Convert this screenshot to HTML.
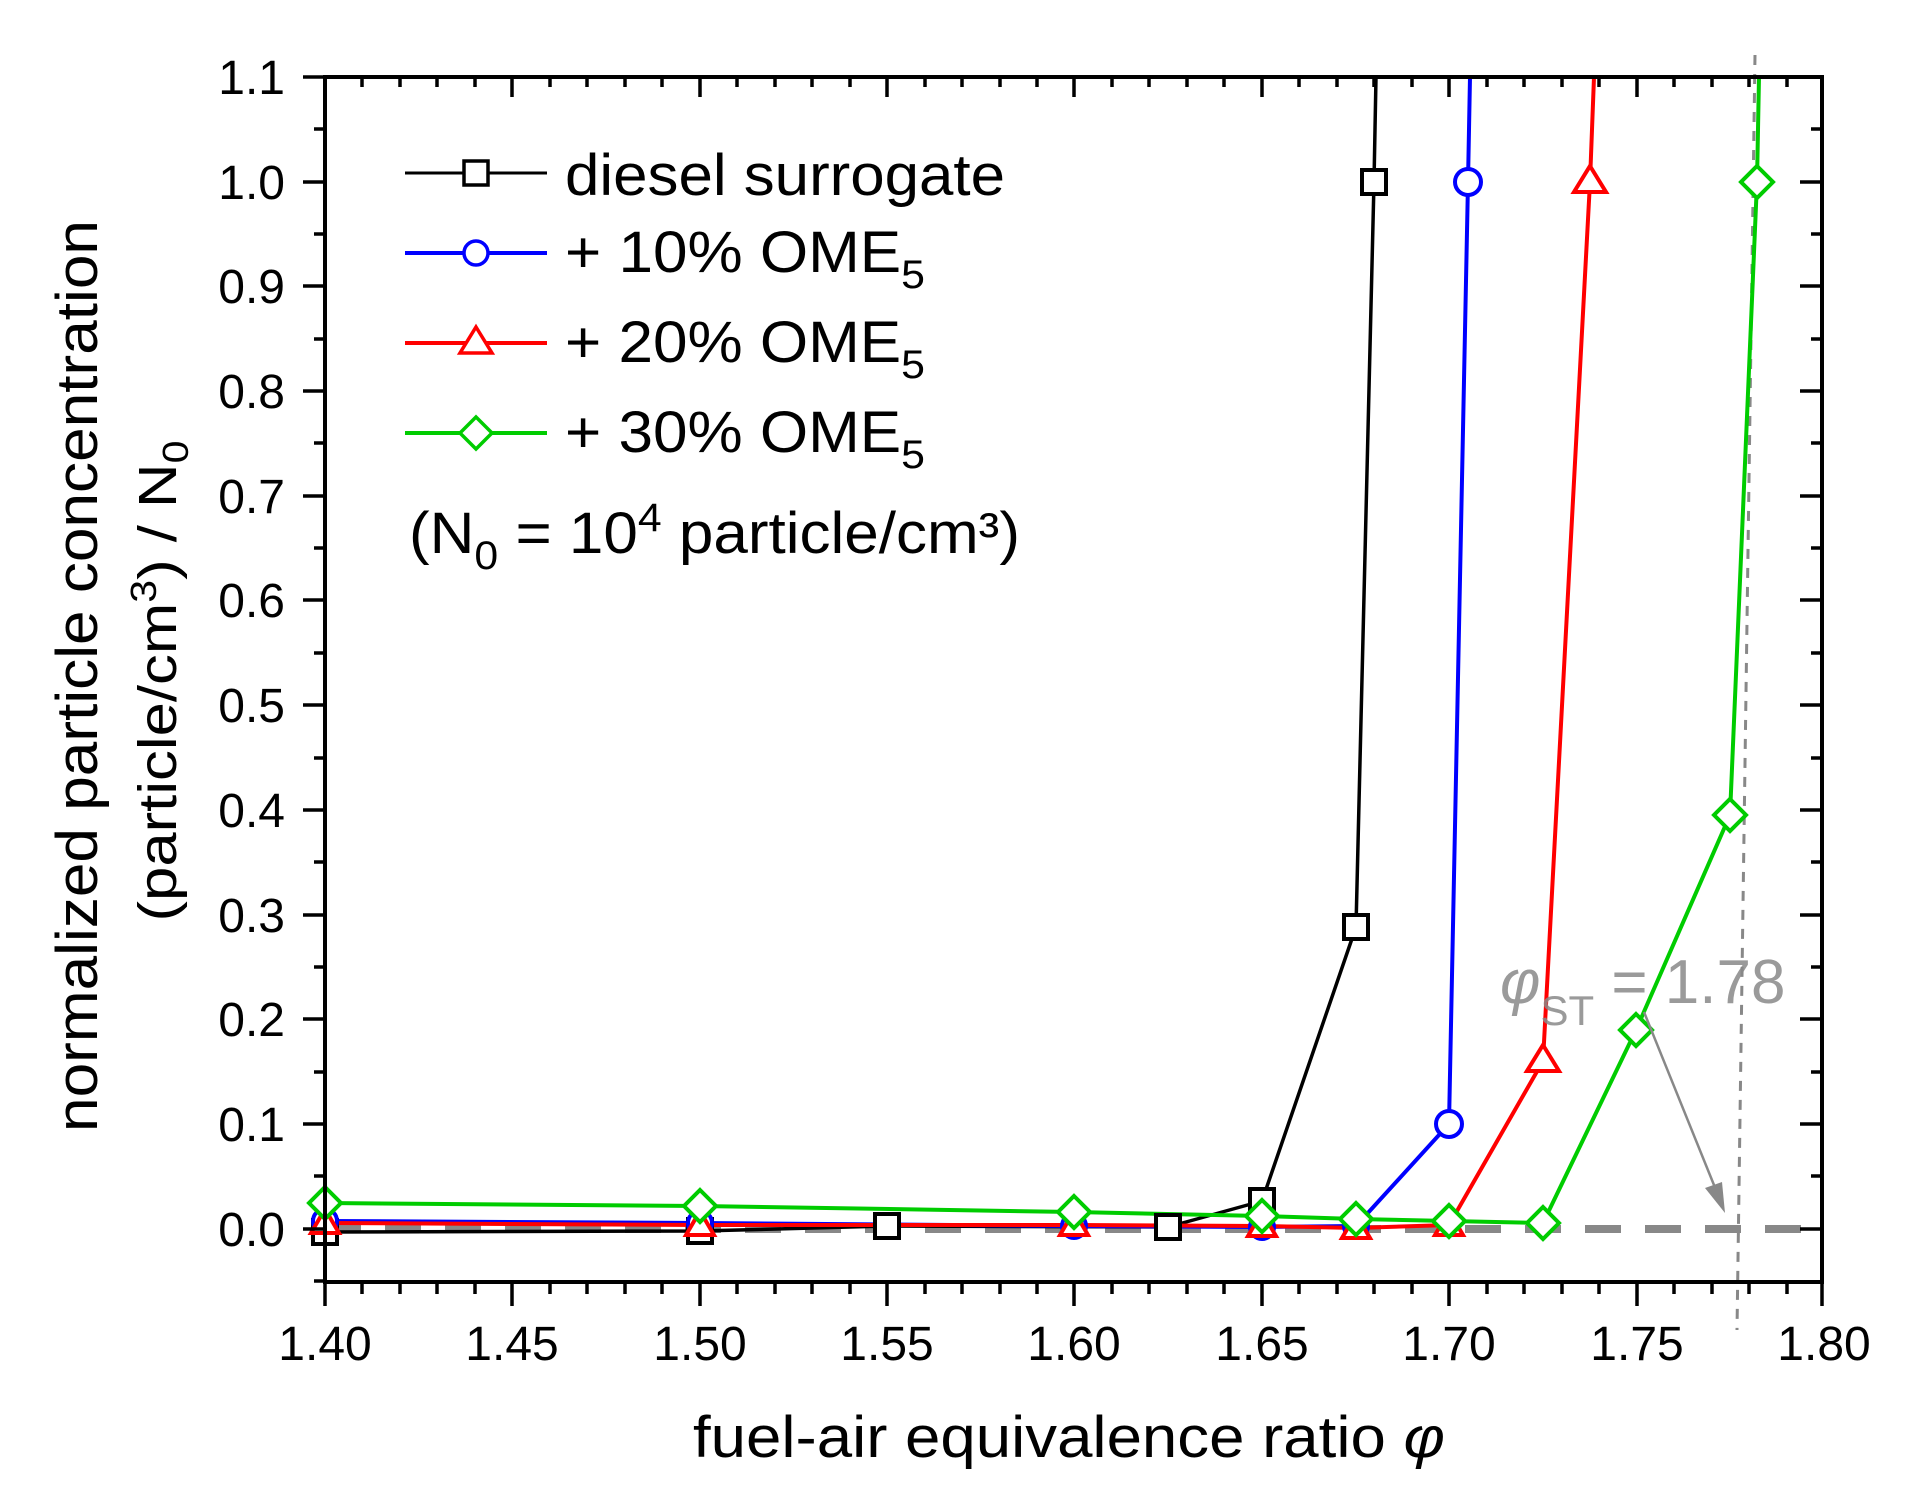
<!DOCTYPE html>
<html><head><meta charset="utf-8"><style>html,body{margin:0;padding:0;background:#fff}svg{display:block}</style></head>
<body>
<svg width="1924" height="1512" viewBox="0 0 1924 1512" xmlns="http://www.w3.org/2000/svg" font-family="Liberation Sans, Arial, sans-serif">
<rect width="1924" height="1512" fill="#fff"/>
<line x1="325" y1="1229" x2="1822" y2="1229" stroke="#888" stroke-width="8" stroke-dasharray="36,24"/>
<line x1="1755" y1="55" x2="1737" y2="1330" stroke="#888" stroke-width="3" stroke-dasharray="10,9"/>

<g fill="none" stroke-width="4" stroke-linejoin="round">
<polyline stroke="#000" stroke-width="3.5" points="325,1232 700,1231 887,1226 1168,1227 1262,1201 1356,927 1374,182 1376,77"/>
<polyline stroke="#0000ff" points="325,1221 700,1223 1074,1226 1262,1227 1356,1226 1449,1124 1468,182 1470,77"/>
<polyline stroke="#ff0000" points="325,1223 700,1225 1074,1225 1262,1226 1356,1228 1449,1225 1543,1061 1590,182 1594,77"/>
<polyline stroke="#00cc00" points="325,1203 700,1206 1074,1212 1262,1216 1356,1219 1449,1221 1543,1223 1636,1030 1730,815 1757,182 1759,77"/>
</g>

<g fill="#fff" stroke-width="4">
<g stroke="#000">
<rect x="313" y="1220" width="24" height="24"/><rect x="688" y="1219" width="24" height="24"/><rect x="875" y="1214" width="24" height="24"/>
<rect x="1156" y="1215" width="24" height="24"/><rect x="1250" y="1189" width="24" height="24"/>
<rect x="1344" y="915" width="24" height="24"/><rect x="1362" y="170" width="24" height="24"/>
</g>
<g stroke="#0000ff">
<circle cx="325" cy="1221" r="12"/><circle cx="700" cy="1223" r="12"/><circle cx="1074" cy="1226" r="12"/><circle cx="1262" cy="1227" r="12"/>
<circle cx="1356" cy="1226" r="12"/><circle cx="1449" cy="1124" r="13"/><circle cx="1468" cy="182" r="13"/>
</g>
<g stroke="#ff0000">
<path d="M325,1209 L339,1233 L311,1233Z M700,1211 L714,1235 L686,1235Z M1074,1211 L1088,1235 L1060,1235Z M1262,1212 L1276,1236 L1248,1236Z M1356,1214 L1370,1238 L1342,1238Z M1449,1211 L1463,1235 L1435,1235Z M1543,1045 L1559,1071 L1527,1071Z M1590,166 L1606,192 L1574,192Z"/>
</g>
<g stroke="#00cc00">
<path d="M325,1187 L341,1203 L325,1219 L309,1203Z M700,1190 L716,1206 L700,1222 L684,1206Z M1074,1196 L1090,1212 L1074,1228 L1058,1212Z M1262,1200 L1278,1216 L1262,1232 L1246,1216Z M1356,1203 L1372,1219 L1356,1235 L1340,1219Z M1449,1205 L1465,1221 L1449,1237 L1433,1221Z M1543,1207 L1559,1223 L1543,1239 L1527,1223Z M1636,1014 L1652,1030 L1636,1046 L1620,1030Z M1730,799 L1746,815 L1730,831 L1714,815Z M1757,166 L1773,182 L1757,198 L1741,182Z"/>
</g>
</g>

<text x="1500" y="1003" font-size="62" fill="#888" fill-opacity="0.85"><tspan font-style="italic">φ</tspan><tspan font-size="42" dy="22">ST</tspan><tspan dy="-22"> = 1.78</tspan></text>
<line x1="1644" y1="1012" x2="1716" y2="1190" stroke="#888" stroke-width="2.5"/>
<path d="M1725,1213 L1705,1188 L1722,1182Z" fill="#888"/>

<rect x="325" y="77" width="1497" height="1205" fill="none" stroke="#000" stroke-width="4"/>
<g stroke="#000" stroke-width="3.5">
<path d="M325,1282v24M512,1282v24M700,1282v24M887,1282v24M1074,1282v24M1262,1282v24M1449,1282v24M1637,1282v24M1822,1282v24
M325,77v20M512,77v20M700,77v20M887,77v20M1074,77v20M1262,77v20M1449,77v20M1637,77v20"/>
<path d="M362,1282v12M400,1282v12M437,1282v12M475,1282v12M550,1282v12M587,1282v12M625,1282v12M662,1282v12M737,1282v12M775,1282v12M812,1282v12M850,1282v12M925,1282v12M962,1282v12M1000,1282v12M1037,1282v12M1112,1282v12M1149,1282v12M1187,1282v12M1224,1282v12M1299,1282v12M1337,1282v12M1374,1282v12M1412,1282v12M1487,1282v12M1524,1282v12M1562,1282v12M1599,1282v12M1674,1282v12M1712,1282v12M1749,1282v12M1787,1282v12
M362,77v10M400,77v10M437,77v10M475,77v10M550,77v10M587,77v10M625,77v10M662,77v10M737,77v10M775,77v10M812,77v10M850,77v10M925,77v10M962,77v10M1000,77v10M1037,77v10M1112,77v10M1149,77v10M1187,77v10M1224,77v10M1299,77v10M1337,77v10M1374,77v10M1412,77v10M1487,77v10M1524,77v10M1562,77v10M1599,77v10M1674,77v10M1712,77v10M1749,77v10M1787,77v10"/>
<path d="M325,77h-22M325,182h-22M325,286h-22M325,391h-22M325,496h-22M325,600h-22M325,705h-22M325,810h-22M325,915h-22M325,1019h-22M325,1124h-22M325,1229h-22
M1822,182h-22M1822,286h-22M1822,391h-22M1822,496h-22M1822,600h-22M1822,705h-22M1822,810h-22M1822,915h-22M1822,1019h-22M1822,1124h-22M1822,1229h-22"/>
<path d="M325,129h-11M325,234h-11M325,339h-11M325,443h-11M325,548h-11M325,653h-11M325,758h-11M325,862h-11M325,967h-11M325,1072h-11M325,1176h-11M325,1281h-11
M1822,129h-11M1822,234h-11M1822,339h-11M1822,443h-11M1822,548h-11M1822,653h-11M1822,758h-11M1822,862h-11M1822,967h-11M1822,1072h-11M1822,1176h-11"/>
</g>

<g font-size="48" text-anchor="end" fill="#000">
<text x="285" y="94">1.1</text><text x="285" y="199">1.0</text><text x="285" y="303">0.9</text><text x="285" y="408">0.8</text>
<text x="285" y="513">0.7</text><text x="285" y="617">0.6</text><text x="285" y="722">0.5</text><text x="285" y="827">0.4</text>
<text x="285" y="932">0.3</text><text x="285" y="1036">0.2</text><text x="285" y="1141">0.1</text><text x="285" y="1246">0.0</text>
</g>
<g font-size="48" text-anchor="middle" fill="#000">
<text x="325" y="1360">1.40</text><text x="512" y="1360">1.45</text><text x="700" y="1360">1.50</text><text x="887" y="1360">1.55</text>
<text x="1074" y="1360">1.60</text><text x="1262" y="1360">1.65</text><text x="1449" y="1360">1.70</text><text x="1637" y="1360">1.75</text><text x="1824" y="1360">1.80</text>
</g>

<text x="693" y="1457" font-size="58" textLength="752" lengthAdjust="spacingAndGlyphs">fuel-air equivalence ratio <tspan font-style="italic">φ</tspan></text>
<text transform="translate(97,676) rotate(-90)" text-anchor="middle" font-size="58" textLength="912" lengthAdjust="spacingAndGlyphs">normalized particle concentration</text>
<text transform="translate(176,681) rotate(-90)" text-anchor="middle" font-size="54" textLength="481" lengthAdjust="spacingAndGlyphs">(particle/cm<tspan font-size="36" dy="-20">3</tspan><tspan dy="20">) / N</tspan><tspan font-size="36" dy="12">0</tspan></text>

<g stroke-width="3.5" fill="#fff">
<line x1="405" y1="173" x2="547" y2="173" stroke="#000" stroke-width="3"/><rect x="464" y="161" width="24" height="24" stroke="#000"/>
<line x1="405" y1="253" x2="547" y2="253" stroke="#0000ff" stroke-width="4"/><circle cx="476" cy="253" r="12" stroke="#0000ff"/>
<line x1="405" y1="343" x2="547" y2="343" stroke="#ff0000" stroke-width="4"/><path d="M476,327 L492,353 L460,353Z" stroke="#ff0000"/>
<line x1="405" y1="433" x2="547" y2="433" stroke="#00cc00" stroke-width="4"/><path d="M476,417 L492,433 L476,449 L460,433Z" stroke="#00cc00"/>
</g>
<g font-size="58" fill="#000">
<text x="565" y="195" textLength="440" lengthAdjust="spacingAndGlyphs">diesel surrogate</text>
<text x="565" y="272" textLength="360" lengthAdjust="spacingAndGlyphs">+ 10% OME<tspan font-size="40" dy="16">5</tspan></text>
<text x="565" y="362" textLength="360" lengthAdjust="spacingAndGlyphs">+ 20% OME<tspan font-size="40" dy="16">5</tspan></text>
<text x="565" y="452" textLength="360" lengthAdjust="spacingAndGlyphs">+ 30% OME<tspan font-size="40" dy="16">5</tspan></text>
<text x="409" y="553" textLength="611" lengthAdjust="spacingAndGlyphs">(N<tspan font-size="40" dy="16">0</tspan><tspan dy="-16"> = 10</tspan><tspan font-size="40" dy="-22">4</tspan><tspan dy="22"> particle/cm³)</tspan></text>
</g>
</svg>
</body></html>
